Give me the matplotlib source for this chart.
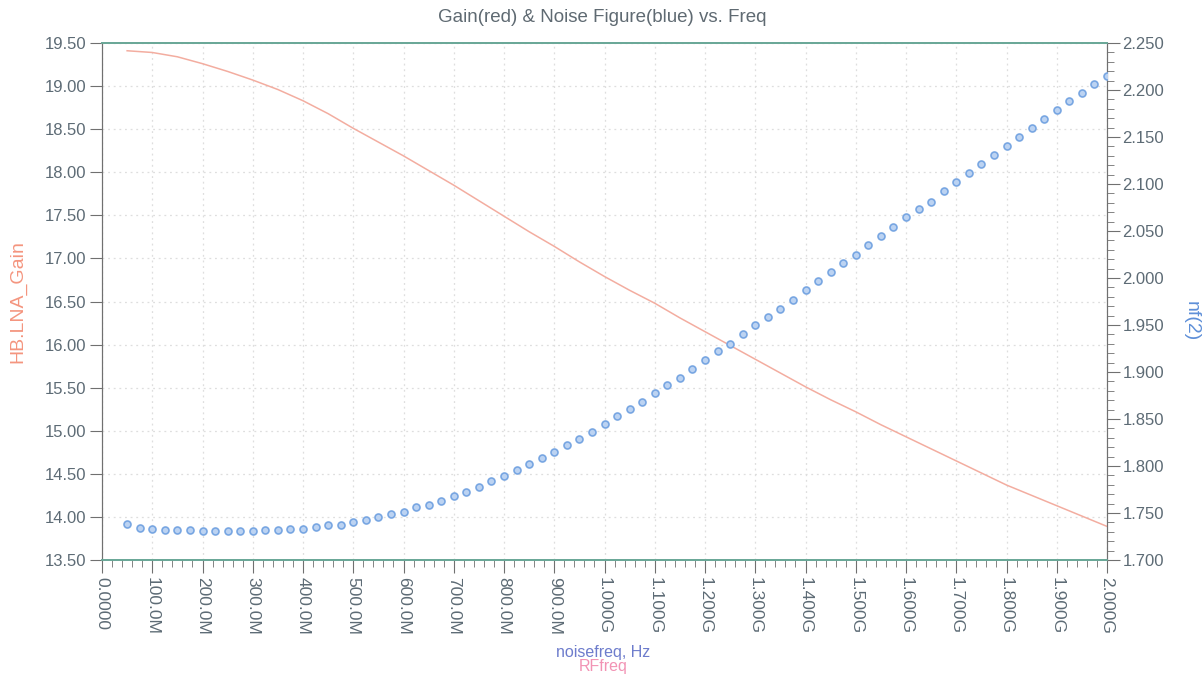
import matplotlib
matplotlib.use('Agg')
import matplotlib.pyplot as plt
from matplotlib.ticker import MultipleLocator, FuncFormatter

plt.rcParams['font.family'] = ['Liberation Sans', 'DejaVu Sans']

# gain sweep (RFfreq, MHz) and values in dB
gain_freq = [50, 100, 150, 200, 250, 300, 350, 400, 450, 500,
             550, 600, 650, 700, 750, 800, 850, 900, 950, 1000,
             1050, 1100, 1150, 1200, 1250, 1300, 1350, 1400, 1450, 1500,
             1550, 1600, 1650, 1700, 1750, 1800, 1850, 1900, 1950, 2000]
gain_db = [19.41, 19.39, 19.34, 19.26, 19.17, 19.07, 18.96, 18.83, 18.68, 18.51,
           18.35, 18.19, 18.02, 17.85, 17.67, 17.49, 17.31, 17.14, 16.96, 16.79,
           16.63, 16.48, 16.31, 16.15, 15.99, 15.83, 15.67, 15.51, 15.36, 15.22,
           15.07, 14.93, 14.79, 14.65, 14.51, 14.37, 14.25, 14.13, 14.01, 13.89]

# noise sweep (noisefreq, MHz) and nf(2)
noise_freq = [50, 75, 100, 125, 150, 175, 200, 225, 250, 275,
              300, 325, 350, 375, 400, 425, 450, 475, 500, 525,
              550, 575, 600, 625, 650, 675, 700, 725, 750, 775,
              800, 825, 850, 875, 900, 925, 950, 975, 1000, 1025,
              1050, 1075, 1100, 1125, 1150, 1175, 1200, 1225, 1250, 1275,
              1300, 1325, 1350, 1375, 1400, 1425, 1450, 1475, 1500, 1525,
              1550, 1575, 1600, 1625, 1650, 1675, 1700, 1725, 1750, 1775,
              1800, 1825, 1850, 1875, 1900, 1925, 1950, 1975, 2000]
nf = [1.7386, 1.7337, 1.7333, 1.7319, 1.7319, 1.7319, 1.7309, 1.7309, 1.7309, 1.7309,
      1.7309, 1.7319, 1.7319, 1.7330, 1.7333, 1.7346, 1.7372, 1.7376, 1.7401, 1.7426,
      1.7454, 1.7489, 1.7514, 1.7561, 1.7588, 1.7631, 1.7681, 1.7720, 1.7777, 1.7837,
      1.7890, 1.7957, 1.8018, 1.8085, 1.8149, 1.8220, 1.8290, 1.8362, 1.8450, 1.8535,
      1.8603, 1.8684, 1.8773, 1.8862, 1.8936, 1.9032, 1.9128, 1.9223, 1.9301, 1.9404,
      1.9500, 1.9585, 1.9670, 1.9769, 1.9872, 1.9968, 2.0064, 2.0160, 2.0241, 2.0351,
      2.0447, 2.0543, 2.0649, 2.0734, 2.0809, 2.0926, 2.1021, 2.1117, 2.1213, 2.1309,
      2.1404, 2.1500, 2.1596, 2.1691, 2.1787, 2.1880, 2.1971, 2.2061, 2.2149]

tick_col = '#5d6b75'
spine_gray = '#707070'
spine_green = '#6aa898'


def freq_label(v, pos):
    # ADS style frequency labels
    if abs(v) < 1e-9:
        return '0.0000'
    if v < 1000:
        return '%.1fM' % v
    return '%.3fG' % (v / 1000.0)


fig = plt.figure(figsize=(12.04, 6.77), dpi=100)
ax = fig.add_axes([102 / 1204, 1 - 560 / 677, 1005 / 1204, 517 / 677])
ax2 = ax.twinx()

ax.plot(gain_freq, gain_db, color='#f3ada0', lw=1.1, zorder=3)
ax2.plot(noise_freq, nf, ls='none', marker='o', ms=5, mfc='#bcd3f2',
         mec='#78a6e2', mew=1.2, zorder=4)

ax.set_xlim(0, 2000)
ax.set_ylim(13.5, 19.5)
ax2.set_ylim(1.70, 2.25)

ax.xaxis.set_major_locator(MultipleLocator(100))
ax.xaxis.set_minor_locator(MultipleLocator(20))
ax.xaxis.set_major_formatter(FuncFormatter(freq_label))
ax.yaxis.set_major_locator(MultipleLocator(0.5))
ax.yaxis.set_major_formatter(FuncFormatter(lambda v, p: '%.2f' % v))
ax2.yaxis.set_major_locator(MultipleLocator(0.05))
ax2.yaxis.set_minor_locator(MultipleLocator(0.01))
ax2.yaxis.set_major_formatter(FuncFormatter(lambda v, p: '%.3f' % v))

ax.grid(True, which='major', color='#dedede', ls=(0, (1.5, 3)), lw=0.9)

for lab in ax.get_xticklabels():
    lab.set_rotation(270)
ax.tick_params(axis='x', which='major', length=9, color=spine_gray, labelsize=12.5,
               labelcolor=tick_col, pad=3)
ax.tick_params(axis='x', which='minor', length=5, color=spine_gray)
ax.tick_params(axis='y', which='major', length=9, color=spine_gray, labelsize=12,
               labelcolor=tick_col, pad=2)
ax2.tick_params(axis='y', which='major', length=9, color=spine_gray, labelsize=12,
                labelcolor=tick_col, pad=2)
ax2.tick_params(axis='y', which='minor', length=5, color=spine_gray)

for a in (ax, ax2):
    a.spines['left'].set_color(spine_gray)
    a.spines['right'].set_color(spine_gray)
    a.spines['top'].set_color(spine_green)
    a.spines['bottom'].set_color(spine_green)
    a.spines['top'].set_linewidth(1.3)
    a.spines['bottom'].set_linewidth(1.3)

ax.set_ylabel('HB.LNA_Gain', color='#f4957f', fontsize=14, va='center')
ax.yaxis.set_label_coords(-0.0836, 0.5)
ax2.set_ylabel('nf(2)', color='#5e8fd8', fontsize=14, rotation=270, va='center')
ax2.yaxis.set_label_coords(1.0836, 0.462)

fig.text(0.5, 1 - 17 / 677, 'Gain(red) & Noise Figure(blue) vs. Freq',
         ha='center', va='center', fontsize=13.5, color='#5f6a72')
fig.text(603 / 1204, 1 - 652 / 677, 'noisefreq, Hz', ha='center', va='center',
         fontsize=11.5, color='#6d7ccc')
fig.text(603 / 1204, 1 - 667 / 677, 'RFfreq', ha='center', va='center',
         fontsize=11.5, color='#f293b4')

fig.savefig('out.png', dpi=100, facecolor='white')
